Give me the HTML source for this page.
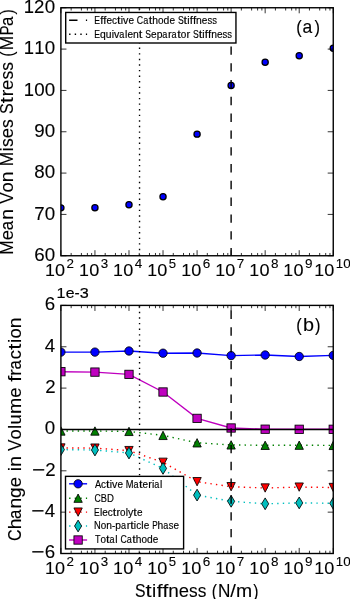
<!DOCTYPE html><html><head><meta charset="utf-8"><style>html,body{margin:0;padding:0;background:#fff;}svg{display:block;will-change:transform;}text{font-kerning:none;}</style></head><body><svg width="350" height="599" viewBox="0 0 350 599" font-family="&quot;Liberation Sans&quot;, sans-serif">
<rect width="350" height="599" fill="#fff"/>
<defs>
<clipPath id="c1"><rect x="60.9" y="7.75" width="272.35" height="248.0"/></clipPath>
<clipPath id="c2"><rect x="60.9" y="305.4" width="272.35" height="248.10000000000002"/></clipPath>
</defs>
<g clip-path="url(#c1)">
<circle cx="60.90" cy="207.85" r="3.10" fill="#0000ff" stroke="#000" stroke-width="1.25"/>
<circle cx="94.94" cy="207.80" r="3.10" fill="#0000ff" stroke="#000" stroke-width="1.25"/>
<circle cx="128.99" cy="204.70" r="3.10" fill="#0000ff" stroke="#000" stroke-width="1.25"/>
<circle cx="163.03" cy="196.70" r="3.10" fill="#0000ff" stroke="#000" stroke-width="1.25"/>
<circle cx="197.08" cy="134.15" r="3.10" fill="#0000ff" stroke="#000" stroke-width="1.25"/>
<circle cx="231.12" cy="85.40" r="3.10" fill="#0000ff" stroke="#000" stroke-width="1.25"/>
<circle cx="265.16" cy="62.20" r="3.10" fill="#0000ff" stroke="#000" stroke-width="1.25"/>
<circle cx="299.21" cy="55.70" r="3.10" fill="#0000ff" stroke="#000" stroke-width="1.25"/>
<circle cx="333.25" cy="48.30" r="3.10" fill="#0000ff" stroke="#000" stroke-width="1.25"/>
<path d="M231.12 256.4V7.75" stroke="#000" stroke-width="1.39" stroke-dasharray="8.4 8.4" fill="none"/>
<path d="M139.55 255.80V7.75" stroke="#000" stroke-width="1.39" stroke-dasharray="1.4 4.19" fill="none"/>
</g>
<path d="M60.90 255.75v-5.56M60.90 7.75v5.56M71.15 255.75v-2.78M71.15 7.75v2.78M81.40 255.75v-2.78M81.40 7.75v2.78M87.39 255.75v-2.78M87.39 7.75v2.78M91.64 255.75v-2.78M91.64 7.75v2.78M94.94 255.75v-5.56M94.94 7.75v5.56M105.19 255.75v-2.78M105.19 7.75v2.78M115.44 255.75v-2.78M115.44 7.75v2.78M121.43 255.75v-2.78M121.43 7.75v2.78M125.69 255.75v-2.78M125.69 7.75v2.78M128.99 255.75v-5.56M128.99 7.75v5.56M139.24 255.75v-2.78M139.24 7.75v2.78M149.48 255.75v-2.78M149.48 7.75v2.78M155.48 255.75v-2.78M155.48 7.75v2.78M159.73 255.75v-2.78M159.73 7.75v2.78M163.03 255.75v-5.56M163.03 7.75v5.56M173.28 255.75v-2.78M173.28 7.75v2.78M183.53 255.75v-2.78M183.53 7.75v2.78M189.52 255.75v-2.78M189.52 7.75v2.78M193.78 255.75v-2.78M193.78 7.75v2.78M197.08 255.75v-5.56M197.08 7.75v5.56M207.32 255.75v-2.78M207.32 7.75v2.78M217.57 255.75v-2.78M217.57 7.75v2.78M223.57 255.75v-2.78M223.57 7.75v2.78M227.82 255.75v-2.78M227.82 7.75v2.78M231.12 255.75v-5.56M231.12 7.75v5.56M241.37 255.75v-2.78M241.37 7.75v2.78M251.62 255.75v-2.78M251.62 7.75v2.78M257.61 255.75v-2.78M257.61 7.75v2.78M261.86 255.75v-2.78M261.86 7.75v2.78M265.16 255.75v-5.56M265.16 7.75v5.56M275.41 255.75v-2.78M275.41 7.75v2.78M285.66 255.75v-2.78M285.66 7.75v2.78M291.65 255.75v-2.78M291.65 7.75v2.78M295.91 255.75v-2.78M295.91 7.75v2.78M299.21 255.75v-5.56M299.21 7.75v5.56M309.45 255.75v-2.78M309.45 7.75v2.78M319.70 255.75v-2.78M319.70 7.75v2.78M325.70 255.75v-2.78M325.70 7.75v2.78M329.95 255.75v-2.78M329.95 7.75v2.78M333.25 255.75v-5.56M333.25 7.75v5.56" stroke="#000" stroke-width="0.8" fill="none"/>
<path d="M60.90 255.75h5.56M333.25 255.75h-5.56M60.90 214.42h5.56M333.25 214.42h-5.56M60.90 173.08h5.56M333.25 173.08h-5.56M60.90 131.75h5.56M333.25 131.75h-5.56M60.90 90.42h5.56M333.25 90.42h-5.56M60.90 49.08h5.56M333.25 49.08h-5.56M60.90 7.75h5.56M333.25 7.75h-5.56" stroke="#000" stroke-width="0.8" fill="none"/>
<rect x="60.9" y="7.75" width="272.35" height="248.0" fill="none" stroke="#000" stroke-width="1.39"/>
<rect x="65.7" y="12.45" width="170.25" height="30.55" fill="#fff" stroke="#000" stroke-width="1.39"/>
<path d="M69.1 20.3H87.1" stroke="#000" stroke-width="1.39" stroke-dasharray="8.4 8.4"/>
<path d="M69.1 34.2H87.1" stroke="#000" stroke-width="1.39" stroke-dasharray="1.4 4.2"/>
<g font-size="10.28" fill="#000" stroke="#000" stroke-width="0.15">
<text transform="translate(0,24.10) translate(94.30,0) scale(0.8355,1)">E</text>
<text transform="translate(0,24.10) translate(100.14,0) scale(1.1176,1)">f</text>
<text transform="translate(0,24.10) translate(103.33,0) scale(1.1176,1)">f</text>
<text transform="translate(0,24.10) translate(106.45,0) scale(0.9757,1)">e</text>
<text transform="translate(0,24.10) translate(111.90,0) scale(0.9699,1)">c</text>
<text transform="translate(0,24.10) translate(116.96,0) scale(1.2447,1)">t</text>
<text transform="translate(0,24.10) translate(120.66,0) scale(1.0098,1)">i</text>
<text transform="translate(0,24.10) translate(123.07,0) scale(1.0440,1)">v</text>
<text transform="translate(0,24.10) translate(128.46,0) scale(0.9757,1)">e</text>
<text transform="translate(0,24.10) translate(136.85,0) scale(0.8528,1)">C</text>
<text transform="translate(0,24.10) translate(143.14,0) scale(0.8883,1)">a</text>
<text transform="translate(0,24.10) translate(148.76,0) scale(1.2447,1)">t</text>
<text transform="translate(0,24.10) translate(152.35,0) scale(1.0051,1)">h</text>
<text transform="translate(0,24.10) translate(158.10,0) scale(0.9703,1)">o</text>
<text transform="translate(0,24.10) translate(163.60,0) scale(1.0067,1)">d</text>
<text transform="translate(0,24.10) translate(169.42,0) scale(0.9757,1)">e</text>
<text transform="translate(0,24.10) translate(177.91,0) scale(0.8394,1)">S</text>
<text transform="translate(0,24.10) translate(183.59,0) scale(1.2447,1)">t</text>
<text transform="translate(0,24.10) translate(187.29,0) scale(1.0098,1)">i</text>
<text transform="translate(0,24.10) translate(189.80,0) scale(1.1176,1)">f</text>
<text transform="translate(0,24.10) translate(192.99,0) scale(1.1176,1)">f</text>
<text transform="translate(0,24.10) translate(196.11,0) scale(1.0051,1)">n</text>
<text transform="translate(0,24.10) translate(201.85,0) scale(0.9757,1)">e</text>
<text transform="translate(0,24.10) translate(207.48,0) scale(0.9191,1)">s</text>
<text transform="translate(0,24.10) translate(212.20,0) scale(0.9191,1)">s</text>
</g>
<g font-size="10.28" fill="#000" stroke="#000" stroke-width="0.15">
<text transform="translate(0,37.80) translate(94.30,0) scale(0.8355,1)">E</text>
<text transform="translate(0,37.80) translate(99.99,0) scale(1.0067,1)">q</text>
<text transform="translate(0,37.80) translate(105.78,0) scale(1.0051,1)">u</text>
<text transform="translate(0,37.80) translate(111.66,0) scale(1.0098,1)">i</text>
<text transform="translate(0,37.80) translate(114.07,0) scale(1.0440,1)">v</text>
<text transform="translate(0,37.80) translate(119.34,0) scale(0.8883,1)">a</text>
<text transform="translate(0,37.80) translate(125.10,0) scale(1.0098,1)">l</text>
<text transform="translate(0,37.80) translate(127.53,0) scale(0.9757,1)">e</text>
<text transform="translate(0,37.80) translate(133.11,0) scale(1.0051,1)">n</text>
<text transform="translate(0,37.80) translate(138.80,0) scale(1.2447,1)">t</text>
<text transform="translate(0,37.80) translate(145.33,0) scale(0.8394,1)">S</text>
<text transform="translate(0,37.80) translate(151.06,0) scale(0.9757,1)">e</text>
<text transform="translate(0,37.80) translate(156.66,0) scale(1.0067,1)">p</text>
<text transform="translate(0,37.80) translate(162.28,0) scale(0.8883,1)">a</text>
<text transform="translate(0,37.80) translate(168.07,0) scale(1.0889,1)">r</text>
<text transform="translate(0,37.80) translate(171.57,0) scale(0.8883,1)">a</text>
<text transform="translate(0,37.80) translate(177.18,0) scale(1.2447,1)">t</text>
<text transform="translate(0,37.80) translate(180.78,0) scale(0.9703,1)">o</text>
<text transform="translate(0,37.80) translate(186.46,0) scale(1.0889,1)">r</text>
<text transform="translate(0,37.80) translate(192.99,0) scale(0.8394,1)">S</text>
<text transform="translate(0,37.80) translate(198.66,0) scale(1.2447,1)">t</text>
<text transform="translate(0,37.80) translate(202.36,0) scale(1.0098,1)">i</text>
<text transform="translate(0,37.80) translate(204.87,0) scale(1.1176,1)">f</text>
<text transform="translate(0,37.80) translate(208.06,0) scale(1.1176,1)">f</text>
<text transform="translate(0,37.80) translate(211.18,0) scale(1.0051,1)">n</text>
<text transform="translate(0,37.80) translate(216.92,0) scale(0.9757,1)">e</text>
<text transform="translate(0,37.80) translate(222.55,0) scale(0.9191,1)">s</text>
<text transform="translate(0,37.80) translate(227.27,0) scale(0.9191,1)">s</text>
</g>
<g font-size="18.44" fill="#000" stroke="#000" stroke-width="0.1">
<text transform="translate(0,33.30) translate(296.24,0) scale(0.8935,1)">(</text>
<text transform="translate(0,33.30) translate(302.61,0) scale(0.9505,1)">a</text>
<text transform="translate(0,33.30) translate(314.52,0) scale(0.8935,1)">)</text>
</g>
<g font-size="18.07" fill="#000" stroke="#000" stroke-width="0.1">
<text transform="translate(0,260.85) translate(34.21,0) scale(1.0381,1)">6</text>
<text transform="translate(0,260.85) translate(44.65,0) scale(1.0381,1)">0</text>
</g>
<g font-size="18.07" fill="#000" stroke="#000" stroke-width="0.1">
<text transform="translate(0,219.52) translate(34.18,0) scale(1.0381,1)">7</text>
<text transform="translate(0,219.52) translate(44.65,0) scale(1.0381,1)">0</text>
</g>
<g font-size="18.07" fill="#000" stroke="#000" stroke-width="0.1">
<text transform="translate(0,178.18) translate(34.22,0) scale(1.0381,1)">8</text>
<text transform="translate(0,178.18) translate(44.65,0) scale(1.0381,1)">0</text>
</g>
<g font-size="18.07" fill="#000" stroke="#000" stroke-width="0.1">
<text transform="translate(0,136.85) translate(34.17,0) scale(1.0381,1)">9</text>
<text transform="translate(0,136.85) translate(44.65,0) scale(1.0381,1)">0</text>
</g>
<g font-size="18.07" fill="#000" stroke="#000" stroke-width="0.1">
<text transform="translate(0,95.52) translate(23.75,0) scale(1.0233,1)">1</text>
<text transform="translate(0,95.52) translate(34.22,0) scale(1.0381,1)">0</text>
<text transform="translate(0,95.52) translate(44.65,0) scale(1.0381,1)">0</text>
</g>
<g font-size="18.07" fill="#000" stroke="#000" stroke-width="0.1">
<text transform="translate(0,54.18) translate(23.75,0) scale(1.0233,1)">1</text>
<text transform="translate(0,54.18) translate(34.19,0) scale(1.0233,1)">1</text>
<text transform="translate(0,54.18) translate(44.65,0) scale(1.0381,1)">0</text>
</g>
<g font-size="18.07" fill="#000" stroke="#000" stroke-width="0.1">
<text transform="translate(0,12.85) translate(23.75,0) scale(1.0233,1)">1</text>
<text transform="translate(0,12.85) translate(34.03,0) scale(1.0327,1)">2</text>
<text transform="translate(0,12.85) translate(44.65,0) scale(1.0381,1)">0</text>
</g>
<g font-size="17.08" fill="#000" stroke="#000" stroke-width="0.1">
<text transform="translate(0,276.45) translate(45.03,0) scale(1.0433,1)">1</text>
<text transform="translate(0,276.45) translate(55.11,0) scale(1.0585,1)">0</text>
</g>
<g font-size="12.50" fill="#000" stroke="#000" stroke-width="0.1">
<text transform="translate(0,267.55) translate(66.53,0) scale(1.0740,1)">2</text>
</g>
<g font-size="17.08" fill="#000" stroke="#000" stroke-width="0.1">
<text transform="translate(0,276.45) translate(79.08,0) scale(1.0433,1)">1</text>
<text transform="translate(0,276.45) translate(89.16,0) scale(1.0585,1)">0</text>
</g>
<g font-size="12.50" fill="#000" stroke="#000" stroke-width="0.1">
<text transform="translate(0,267.55) translate(100.76,0) scale(1.0701,1)">3</text>
</g>
<g font-size="17.08" fill="#000" stroke="#000" stroke-width="0.1">
<text transform="translate(0,276.45) translate(113.12,0) scale(1.0433,1)">1</text>
<text transform="translate(0,276.45) translate(123.20,0) scale(1.0585,1)">0</text>
</g>
<g font-size="12.50" fill="#000" stroke="#000" stroke-width="0.1">
<text transform="translate(0,267.55) translate(134.76,0) scale(1.0796,1)">4</text>
</g>
<g font-size="17.08" fill="#000" stroke="#000" stroke-width="0.1">
<text transform="translate(0,276.45) translate(147.16,0) scale(1.0433,1)">1</text>
<text transform="translate(0,276.45) translate(157.24,0) scale(1.0585,1)">0</text>
</g>
<g font-size="12.50" fill="#000" stroke="#000" stroke-width="0.1">
<text transform="translate(0,267.55) translate(168.85,0) scale(1.0516,1)">5</text>
</g>
<g font-size="17.08" fill="#000" stroke="#000" stroke-width="0.1">
<text transform="translate(0,276.45) translate(181.21,0) scale(1.0433,1)">1</text>
<text transform="translate(0,276.45) translate(191.29,0) scale(1.0585,1)">0</text>
</g>
<g font-size="12.50" fill="#000" stroke="#000" stroke-width="0.1">
<text transform="translate(0,267.55) translate(202.84,0) scale(1.0796,1)">6</text>
</g>
<g font-size="17.08" fill="#000" stroke="#000" stroke-width="0.1">
<text transform="translate(0,276.45) translate(215.25,0) scale(1.0433,1)">1</text>
<text transform="translate(0,276.45) translate(225.33,0) scale(1.0585,1)">0</text>
</g>
<g font-size="12.50" fill="#000" stroke="#000" stroke-width="0.1">
<text transform="translate(0,267.55) translate(236.86,0) scale(1.0796,1)">7</text>
</g>
<g font-size="17.08" fill="#000" stroke="#000" stroke-width="0.1">
<text transform="translate(0,276.45) translate(249.29,0) scale(1.0433,1)">1</text>
<text transform="translate(0,276.45) translate(259.38,0) scale(1.0585,1)">0</text>
</g>
<g font-size="12.50" fill="#000" stroke="#000" stroke-width="0.1">
<text transform="translate(0,267.55) translate(270.93,0) scale(1.0796,1)">8</text>
</g>
<g font-size="17.08" fill="#000" stroke="#000" stroke-width="0.1">
<text transform="translate(0,276.45) translate(283.34,0) scale(1.0433,1)">1</text>
<text transform="translate(0,276.45) translate(293.42,0) scale(1.0585,1)">0</text>
</g>
<g font-size="12.50" fill="#000" stroke="#000" stroke-width="0.1">
<text transform="translate(0,267.55) translate(304.94,0) scale(1.0796,1)">9</text>
</g>
<g font-size="17.08" fill="#000" stroke="#000" stroke-width="0.1">
<text transform="translate(0,276.45) translate(314.18,0) scale(1.0433,1)">1</text>
<text transform="translate(0,276.45) translate(324.26,0) scale(1.0585,1)">0</text>
</g>
<g font-size="12.50" fill="#000" stroke="#000" stroke-width="0.1">
<text transform="translate(0,267.55) translate(335.79,0) scale(1.0642,1)">1</text>
<text transform="translate(0,267.55) translate(343.32,0) scale(1.0796,1)">0</text>
</g>
<g font-size="17.75" fill="#000" stroke="#000" stroke-width="0.1">
<text transform="translate(12.60,0) rotate(-90) translate(-254.82,0) scale(0.9775,1)">M</text>
<text transform="translate(12.60,0) rotate(-90) translate(-240.34,0) scale(1.0440,1)">e</text>
<text transform="translate(12.60,0) rotate(-90) translate(-230.25,0) scale(0.9505,1)">a</text>
<text transform="translate(12.60,0) rotate(-90) translate(-219.77,0) scale(1.0755,1)">n</text>
<text transform="translate(12.60,0) rotate(-90) translate(-203.87,0) scale(0.9679,1)">V</text>
<text transform="translate(12.60,0) rotate(-90) translate(-192.40,0) scale(1.0382,1)">o</text>
<text transform="translate(12.60,0) rotate(-90) translate(-182.13,0) scale(1.0755,1)">n</text>
<text transform="translate(12.60,0) rotate(-90) translate(-166.22,0) scale(0.9775,1)">M</text>
<text transform="translate(12.60,0) rotate(-90) translate(-151.56,0) scale(1.0805,1)">i</text>
<text transform="translate(12.60,0) rotate(-90) translate(-147.00,0) scale(0.9834,1)">s</text>
<text transform="translate(12.60,0) rotate(-90) translate(-138.35,0) scale(1.0440,1)">e</text>
<text transform="translate(12.60,0) rotate(-90) translate(-127.97,0) scale(0.9834,1)">s</text>
<text transform="translate(12.60,0) rotate(-90) translate(-113.94,0) scale(0.8982,1)">S</text>
<text transform="translate(12.60,0) rotate(-90) translate(-103.26,0) scale(1.2500,1)">t</text>
<text transform="translate(12.60,0) rotate(-90) translate(-96.59,0) scale(1.1652,1)">r</text>
<text transform="translate(12.60,0) rotate(-90) translate(-89.91,0) scale(1.0440,1)">e</text>
<text transform="translate(12.60,0) rotate(-90) translate(-79.52,0) scale(0.9834,1)">s</text>
<text transform="translate(12.60,0) rotate(-90) translate(-70.80,0) scale(0.9834,1)">s</text>
<text transform="translate(12.60,0) rotate(-90) translate(-56.63,0) scale(0.8935,1)">(</text>
<text transform="translate(12.60,0) rotate(-90) translate(-50.32,0) scale(0.9775,1)">M</text>
<text transform="translate(12.60,0) rotate(-90) translate(-35.56,0) scale(0.8533,1)">P</text>
<text transform="translate(12.60,0) rotate(-90) translate(-25.95,0) scale(0.9505,1)">a</text>
<text transform="translate(12.60,0) rotate(-90) translate(-14.49,0) scale(0.8935,1)">)</text>
</g>
<g clip-path="url(#c2)">
<path d="M60.90 352.10L94.94 352.10L128.99 351.00L163.03 353.20L197.08 353.00L231.12 355.60L265.16 355.00L299.21 356.50L333.25 355.40" fill="none" stroke="#0000ff" stroke-width="1.39"/>
<circle cx="60.90" cy="352.10" r="4.17" fill="#0000ff" stroke="#000" stroke-width="0.85"/>
<circle cx="94.94" cy="352.10" r="4.17" fill="#0000ff" stroke="#000" stroke-width="0.85"/>
<circle cx="128.99" cy="351.00" r="4.17" fill="#0000ff" stroke="#000" stroke-width="0.85"/>
<circle cx="163.03" cy="353.20" r="4.17" fill="#0000ff" stroke="#000" stroke-width="0.85"/>
<circle cx="197.08" cy="353.00" r="4.17" fill="#0000ff" stroke="#000" stroke-width="0.85"/>
<circle cx="231.12" cy="355.60" r="4.17" fill="#0000ff" stroke="#000" stroke-width="0.85"/>
<circle cx="265.16" cy="355.00" r="4.17" fill="#0000ff" stroke="#000" stroke-width="0.85"/>
<circle cx="299.21" cy="356.50" r="4.17" fill="#0000ff" stroke="#000" stroke-width="0.85"/>
<circle cx="333.25" cy="355.40" r="4.17" fill="#0000ff" stroke="#000" stroke-width="0.85"/>
<path d="M60.90 431.00L94.94 431.00L128.99 431.40L163.03 435.40L197.08 442.80L231.12 444.90L265.16 445.30L299.21 445.20L333.25 445.40" fill="none" stroke="#008000" stroke-width="1.39" stroke-dasharray="1.4 4.2"/>
<path d="M60.90 426.83L56.73 435.17L65.06 435.17Z" fill="#008000" stroke="#000" stroke-width="0.85" stroke-linejoin="miter"/>
<path d="M94.94 426.83L90.78 435.17L99.11 435.17Z" fill="#008000" stroke="#000" stroke-width="0.85" stroke-linejoin="miter"/>
<path d="M128.99 427.23L124.82 435.56L133.15 435.56Z" fill="#008000" stroke="#000" stroke-width="0.85" stroke-linejoin="miter"/>
<path d="M163.03 431.23L158.87 439.56L167.20 439.56Z" fill="#008000" stroke="#000" stroke-width="0.85" stroke-linejoin="miter"/>
<path d="M197.08 438.63L192.91 446.97L201.24 446.97Z" fill="#008000" stroke="#000" stroke-width="0.85" stroke-linejoin="miter"/>
<path d="M231.12 440.73L226.95 449.06L235.28 449.06Z" fill="#008000" stroke="#000" stroke-width="0.85" stroke-linejoin="miter"/>
<path d="M265.16 441.13L261.00 449.47L269.33 449.47Z" fill="#008000" stroke="#000" stroke-width="0.85" stroke-linejoin="miter"/>
<path d="M299.21 441.03L295.04 449.37L303.37 449.37Z" fill="#008000" stroke="#000" stroke-width="0.85" stroke-linejoin="miter"/>
<path d="M333.25 441.23L329.08 449.56L337.42 449.56Z" fill="#008000" stroke="#000" stroke-width="0.85" stroke-linejoin="miter"/>
<path d="M60.90 448.00L94.94 448.10L128.99 450.60L163.03 462.30L197.08 481.70L231.12 486.70L265.16 488.00L299.21 487.10L333.25 487.50" fill="none" stroke="#ff0000" stroke-width="1.39" stroke-dasharray="1.4 4.2"/>
<path d="M60.90 452.17L56.73 443.83L65.06 443.83Z" fill="#ff0000" stroke="#000" stroke-width="0.85" stroke-linejoin="miter"/>
<path d="M94.94 452.27L90.78 443.94L99.11 443.94Z" fill="#ff0000" stroke="#000" stroke-width="0.85" stroke-linejoin="miter"/>
<path d="M128.99 454.77L124.82 446.44L133.15 446.44Z" fill="#ff0000" stroke="#000" stroke-width="0.85" stroke-linejoin="miter"/>
<path d="M163.03 466.47L158.87 458.13L167.20 458.13Z" fill="#ff0000" stroke="#000" stroke-width="0.85" stroke-linejoin="miter"/>
<path d="M197.08 485.87L192.91 477.53L201.24 477.53Z" fill="#ff0000" stroke="#000" stroke-width="0.85" stroke-linejoin="miter"/>
<path d="M231.12 490.87L226.95 482.53L235.28 482.53Z" fill="#ff0000" stroke="#000" stroke-width="0.85" stroke-linejoin="miter"/>
<path d="M265.16 492.17L261.00 483.83L269.33 483.83Z" fill="#ff0000" stroke="#000" stroke-width="0.85" stroke-linejoin="miter"/>
<path d="M299.21 491.27L295.04 482.94L303.37 482.94Z" fill="#ff0000" stroke="#000" stroke-width="0.85" stroke-linejoin="miter"/>
<path d="M333.25 491.67L329.08 483.33L337.42 483.33Z" fill="#ff0000" stroke="#000" stroke-width="0.85" stroke-linejoin="miter"/>
<path d="M60.90 449.60L94.94 450.00L128.99 453.00L163.03 468.40L197.08 495.10L231.12 501.30L265.16 503.80L299.21 502.90L333.25 503.30" fill="none" stroke="#00bfbf" stroke-width="1.39" stroke-dasharray="1.4 4.2"/>
<path d="M60.90 443.71L64.43 449.60L60.90 455.49L57.37 449.60Z" fill="#00bfbf" stroke="#000" stroke-width="0.85"/>
<path d="M94.94 444.11L98.48 450.00L94.94 455.89L91.41 450.00Z" fill="#00bfbf" stroke="#000" stroke-width="0.85"/>
<path d="M128.99 447.11L132.52 453.00L128.99 458.89L125.45 453.00Z" fill="#00bfbf" stroke="#000" stroke-width="0.85"/>
<path d="M163.03 462.51L166.57 468.40L163.03 474.29L159.50 468.40Z" fill="#00bfbf" stroke="#000" stroke-width="0.85"/>
<path d="M197.08 489.21L200.61 495.10L197.08 500.99L193.54 495.10Z" fill="#00bfbf" stroke="#000" stroke-width="0.85"/>
<path d="M231.12 495.41L234.65 501.30L231.12 507.19L227.58 501.30Z" fill="#00bfbf" stroke="#000" stroke-width="0.85"/>
<path d="M265.16 497.91L268.70 503.80L265.16 509.69L261.63 503.80Z" fill="#00bfbf" stroke="#000" stroke-width="0.85"/>
<path d="M299.21 497.01L302.74 502.90L299.21 508.79L295.67 502.90Z" fill="#00bfbf" stroke="#000" stroke-width="0.85"/>
<path d="M333.25 497.41L336.78 503.30L333.25 509.19L329.72 503.30Z" fill="#00bfbf" stroke="#000" stroke-width="0.85"/>
<path d="M60.90 371.70L94.94 372.10L128.99 374.40L163.03 392.00L197.08 418.40L231.12 428.00L265.16 429.20L299.21 429.30L333.25 429.30" fill="none" stroke="#bf00bf" stroke-width="1.39"/>
<rect x="56.73" y="367.53" width="8.33" height="8.33" fill="#bf00bf" stroke="#000" stroke-width="0.85"/>
<rect x="90.78" y="367.94" width="8.33" height="8.33" fill="#bf00bf" stroke="#000" stroke-width="0.85"/>
<rect x="124.82" y="370.23" width="8.33" height="8.33" fill="#bf00bf" stroke="#000" stroke-width="0.85"/>
<rect x="158.87" y="387.83" width="8.33" height="8.33" fill="#bf00bf" stroke="#000" stroke-width="0.85"/>
<rect x="192.91" y="414.23" width="8.33" height="8.33" fill="#bf00bf" stroke="#000" stroke-width="0.85"/>
<rect x="226.95" y="423.83" width="8.33" height="8.33" fill="#bf00bf" stroke="#000" stroke-width="0.85"/>
<rect x="261.00" y="425.03" width="8.33" height="8.33" fill="#bf00bf" stroke="#000" stroke-width="0.85"/>
<rect x="295.04" y="425.13" width="8.33" height="8.33" fill="#bf00bf" stroke="#000" stroke-width="0.85"/>
<rect x="329.08" y="425.13" width="8.33" height="8.33" fill="#bf00bf" stroke="#000" stroke-width="0.85"/>
<path d="M60.9 429.45H333.25" stroke="#000" stroke-width="1.39"/>
<path d="M231.12 554.15V305.4" stroke="#000" stroke-width="1.39" stroke-dasharray="8.4 8.4" fill="none"/>
<path d="M139.55 553.55V305.4" stroke="#000" stroke-width="1.39" stroke-dasharray="1.4 4.19" fill="none"/>
</g>
<path d="M60.90 553.50v-5.56M60.90 305.40v5.56M71.15 553.50v-2.78M71.15 305.40v2.78M81.40 553.50v-2.78M81.40 305.40v2.78M87.39 553.50v-2.78M87.39 305.40v2.78M91.64 553.50v-2.78M91.64 305.40v2.78M94.94 553.50v-5.56M94.94 305.40v5.56M105.19 553.50v-2.78M105.19 305.40v2.78M115.44 553.50v-2.78M115.44 305.40v2.78M121.43 553.50v-2.78M121.43 305.40v2.78M125.69 553.50v-2.78M125.69 305.40v2.78M128.99 553.50v-5.56M128.99 305.40v5.56M139.24 553.50v-2.78M139.24 305.40v2.78M149.48 553.50v-2.78M149.48 305.40v2.78M155.48 553.50v-2.78M155.48 305.40v2.78M159.73 553.50v-2.78M159.73 305.40v2.78M163.03 553.50v-5.56M163.03 305.40v5.56M173.28 553.50v-2.78M173.28 305.40v2.78M183.53 553.50v-2.78M183.53 305.40v2.78M189.52 553.50v-2.78M189.52 305.40v2.78M193.78 553.50v-2.78M193.78 305.40v2.78M197.08 553.50v-5.56M197.08 305.40v5.56M207.32 553.50v-2.78M207.32 305.40v2.78M217.57 553.50v-2.78M217.57 305.40v2.78M223.57 553.50v-2.78M223.57 305.40v2.78M227.82 553.50v-2.78M227.82 305.40v2.78M231.12 553.50v-5.56M231.12 305.40v5.56M241.37 553.50v-2.78M241.37 305.40v2.78M251.62 553.50v-2.78M251.62 305.40v2.78M257.61 553.50v-2.78M257.61 305.40v2.78M261.86 553.50v-2.78M261.86 305.40v2.78M265.16 553.50v-5.56M265.16 305.40v5.56M275.41 553.50v-2.78M275.41 305.40v2.78M285.66 553.50v-2.78M285.66 305.40v2.78M291.65 553.50v-2.78M291.65 305.40v2.78M295.91 553.50v-2.78M295.91 305.40v2.78M299.21 553.50v-5.56M299.21 305.40v5.56M309.45 553.50v-2.78M309.45 305.40v2.78M319.70 553.50v-2.78M319.70 305.40v2.78M325.70 553.50v-2.78M325.70 305.40v2.78M329.95 553.50v-2.78M329.95 305.40v2.78M333.25 553.50v-5.56M333.25 305.40v5.56" stroke="#000" stroke-width="0.8" fill="none"/>
<path d="M60.90 553.50h5.56M333.25 553.50h-5.56M60.90 512.15h5.56M333.25 512.15h-5.56M60.90 470.80h5.56M333.25 470.80h-5.56M60.90 429.45h5.56M333.25 429.45h-5.56M60.90 388.10h5.56M333.25 388.10h-5.56M60.90 346.75h5.56M333.25 346.75h-5.56M60.90 305.40h5.56M333.25 305.40h-5.56" stroke="#000" stroke-width="0.8" fill="none"/>
<rect x="60.9" y="305.4" width="272.35" height="248.10000000000002" fill="none" stroke="#000" stroke-width="1.39"/>
<rect x="65.5" y="476.35" width="118.10" height="72.55" fill="#fff" stroke="#000" stroke-width="1.39"/>
<path d="M69.10 483.80L87.10 483.80" fill="none" stroke="#0000ff" stroke-width="1.39"/>
<circle cx="78.10" cy="483.80" r="4.17" fill="#0000ff" stroke="#000" stroke-width="0.85"/>
<g font-size="10.20" fill="#000" stroke="#000" stroke-width="0.15">
<text transform="translate(0,487.70) translate(94.93,0) scale(0.9046,1)">A</text>
<text transform="translate(0,487.70) translate(100.98,0) scale(0.9699,1)">c</text>
<text transform="translate(0,487.70) translate(106.00,0) scale(1.2447,1)">t</text>
<text transform="translate(0,487.70) translate(109.67,0) scale(1.0098,1)">i</text>
<text transform="translate(0,487.70) translate(112.06,0) scale(1.0440,1)">v</text>
<text transform="translate(0,487.70) translate(117.41,0) scale(0.9757,1)">e</text>
<text transform="translate(0,487.70) translate(125.79,0) scale(0.9136,1)">M</text>
<text transform="translate(0,487.70) translate(133.46,0) scale(0.8883,1)">a</text>
<text transform="translate(0,487.70) translate(139.03,0) scale(1.2447,1)">t</text>
<text transform="translate(0,487.70) translate(142.62,0) scale(0.9757,1)">e</text>
<text transform="translate(0,487.70) translate(148.27,0) scale(1.0889,1)">r</text>
<text transform="translate(0,487.70) translate(151.94,0) scale(1.0098,1)">i</text>
<text transform="translate(0,487.70) translate(154.24,0) scale(0.8883,1)">a</text>
<text transform="translate(0,487.70) translate(159.96,0) scale(1.0098,1)">l</text>
</g>
<path d="M69.10 498.20L87.10 498.20" fill="none" stroke="#008000" stroke-width="1.39" stroke-dasharray="1.4 4.2"/>
<path d="M78.10 494.03L73.93 502.37L82.27 502.37Z" fill="#008000" stroke="#000" stroke-width="0.85" stroke-linejoin="miter"/>
<g font-size="10.20" fill="#000" stroke="#000" stroke-width="0.15">
<text transform="translate(0,501.55) translate(94.45,0) scale(0.8528,1)">C</text>
<text transform="translate(0,501.55) translate(100.77,0) scale(0.9072,1)">B</text>
<text transform="translate(0,501.55) translate(106.96,0) scale(0.9405,1)">D</text>
</g>
<path d="M69.10 512.10L87.10 512.10" fill="none" stroke="#ff0000" stroke-width="1.39" stroke-dasharray="1.4 4.2"/>
<path d="M78.10 516.26L73.93 507.94L82.27 507.94Z" fill="#ff0000" stroke="#000" stroke-width="0.85" stroke-linejoin="miter"/>
<g font-size="10.20" fill="#000" stroke="#000" stroke-width="0.15">
<text transform="translate(0,515.50) translate(94.10,0) scale(0.8355,1)">E</text>
<text transform="translate(0,515.50) translate(99.91,0) scale(1.0098,1)">l</text>
<text transform="translate(0,515.50) translate(102.32,0) scale(0.9757,1)">e</text>
<text transform="translate(0,515.50) translate(107.73,0) scale(0.9699,1)">c</text>
<text transform="translate(0,515.50) translate(112.75,0) scale(1.2447,1)">t</text>
<text transform="translate(0,515.50) translate(116.45,0) scale(1.0889,1)">r</text>
<text transform="translate(0,515.50) translate(120.02,0) scale(0.9703,1)">o</text>
<text transform="translate(0,515.50) translate(125.63,0) scale(1.0098,1)">l</text>
<text transform="translate(0,515.50) translate(128.02,0) scale(1.0440,1)">y</text>
<text transform="translate(0,515.50) translate(133.31,0) scale(1.2447,1)">t</text>
<text transform="translate(0,515.50) translate(136.90,0) scale(0.9757,1)">e</text>
</g>
<path d="M69.10 526.00L87.10 526.00" fill="none" stroke="#00bfbf" stroke-width="1.39" stroke-dasharray="1.4 4.2"/>
<path d="M78.10 520.11L81.63 526.00L78.10 531.89L74.57 526.00Z" fill="#00bfbf" stroke="#000" stroke-width="0.85"/>
<g font-size="10.20" fill="#000" stroke="#000" stroke-width="0.15">
<text transform="translate(0,529.45) translate(94.11,0) scale(0.9136,1)">N</text>
<text transform="translate(0,529.45) translate(100.85,0) scale(0.9703,1)">o</text>
<text transform="translate(0,529.45) translate(106.37,0) scale(1.0051,1)">n</text>
<text transform="translate(0,529.45) translate(112.06,0) scale(0.9557,1)">-</text>
<text transform="translate(0,529.45) translate(115.35,0) scale(1.0067,1)">p</text>
<text transform="translate(0,529.45) translate(120.93,0) scale(0.8883,1)">a</text>
<text transform="translate(0,529.45) translate(126.67,0) scale(1.0889,1)">r</text>
<text transform="translate(0,529.45) translate(130.20,0) scale(1.2447,1)">t</text>
<text transform="translate(0,529.45) translate(133.87,0) scale(1.0098,1)">i</text>
<text transform="translate(0,529.45) translate(136.15,0) scale(0.9699,1)">c</text>
<text transform="translate(0,529.45) translate(141.32,0) scale(1.0098,1)">l</text>
<text transform="translate(0,529.45) translate(143.73,0) scale(0.9757,1)">e</text>
<text transform="translate(0,529.45) translate(152.27,0) scale(0.8000,1)">P</text>
<text transform="translate(0,529.45) translate(157.54,0) scale(1.0051,1)">h</text>
<text transform="translate(0,529.45) translate(163.15,0) scale(0.8883,1)">a</text>
<text transform="translate(0,529.45) translate(168.82,0) scale(0.9191,1)">s</text>
<text transform="translate(0,529.45) translate(173.47,0) scale(0.9757,1)">e</text>
</g>
<path d="M69.10 540.00L87.10 540.00" fill="none" stroke="#bf00bf" stroke-width="1.39"/>
<rect x="73.93" y="535.84" width="8.33" height="8.33" fill="#bf00bf" stroke="#000" stroke-width="0.85"/>
<g font-size="10.20" fill="#000" stroke="#000" stroke-width="0.15">
<text transform="translate(0,543.40) translate(95.03,0) scale(0.8820,1)">T</text>
<text transform="translate(0,543.40) translate(100.53,0) scale(0.9703,1)">o</text>
<text transform="translate(0,543.40) translate(105.99,0) scale(1.2447,1)">t</text>
<text transform="translate(0,543.40) translate(109.47,0) scale(0.8883,1)">a</text>
<text transform="translate(0,543.40) translate(115.18,0) scale(1.0098,1)">l</text>
<text transform="translate(0,543.40) translate(120.39,0) scale(0.8528,1)">C</text>
<text transform="translate(0,543.40) translate(126.63,0) scale(0.8883,1)">a</text>
<text transform="translate(0,543.40) translate(132.20,0) scale(1.2447,1)">t</text>
<text transform="translate(0,543.40) translate(135.77,0) scale(1.0051,1)">h</text>
<text transform="translate(0,543.40) translate(141.47,0) scale(0.9703,1)">o</text>
<text transform="translate(0,543.40) translate(146.93,0) scale(1.0067,1)">d</text>
<text transform="translate(0,543.40) translate(152.71,0) scale(0.9757,1)">e</text>
</g>
<g font-size="18.44" fill="#000" stroke="#000" stroke-width="0.1">
<text transform="translate(0,331.00) translate(296.24,0) scale(0.8935,1)">(</text>
<text transform="translate(0,331.00) translate(302.88,0) scale(1.0772,1)">b</text>
<text transform="translate(0,331.00) translate(314.90,0) scale(0.8935,1)">)</text>
</g>
<g font-size="15.15" fill="#000" stroke="#000" stroke-width="0.2">
<text transform="translate(0,298.40) translate(56.60,0) scale(1.0642,1)">1</text>
<text transform="translate(0,298.40) translate(65.76,0) scale(1.0440,1)">e</text>
<text transform="translate(0,298.40) translate(74.52,0) scale(1.0226,1)">-</text>
<text transform="translate(0,298.40) translate(79.74,0) scale(1.0701,1)">3</text>
</g>
<g font-size="18.07" fill="#000" stroke="#000" stroke-width="0.1">
<text transform="translate(0,558.40) translate(31.33,0) scale(1.2500,1)">−</text>
<text transform="translate(0,558.40) translate(44.79,0) scale(1.0381,1)">6</text>
</g>
<g font-size="18.07" fill="#000" stroke="#000" stroke-width="0.1">
<text transform="translate(0,517.05) translate(31.21,0) scale(1.2500,1)">−</text>
<text transform="translate(0,517.05) translate(44.69,0) scale(1.0381,1)">4</text>
</g>
<g font-size="18.07" fill="#000" stroke="#000" stroke-width="0.1">
<text transform="translate(0,475.70) translate(31.93,0) scale(1.2500,1)">−</text>
<text transform="translate(0,475.70) translate(45.21,0) scale(1.0327,1)">2</text>
</g>
<g font-size="18.07" fill="#000" stroke="#000" stroke-width="0.1">
<text transform="translate(0,434.35) translate(44.85,0) scale(1.0381,1)">0</text>
</g>
<g font-size="18.07" fill="#000" stroke="#000" stroke-width="0.1">
<text transform="translate(0,393.00) translate(45.21,0) scale(1.0327,1)">2</text>
</g>
<g font-size="18.07" fill="#000" stroke="#000" stroke-width="0.1">
<text transform="translate(0,351.65) translate(44.69,0) scale(1.0381,1)">4</text>
</g>
<g font-size="18.07" fill="#000" stroke="#000" stroke-width="0.1">
<text transform="translate(0,310.30) translate(44.79,0) scale(1.0381,1)">6</text>
</g>
<g font-size="17.08" fill="#000" stroke="#000" stroke-width="0.1">
<text transform="translate(0,574.20) translate(45.03,0) scale(1.0433,1)">1</text>
<text transform="translate(0,574.20) translate(55.11,0) scale(1.0585,1)">0</text>
</g>
<g font-size="12.50" fill="#000" stroke="#000" stroke-width="0.1">
<text transform="translate(0,566.40) translate(66.53,0) scale(1.0740,1)">2</text>
</g>
<g font-size="17.08" fill="#000" stroke="#000" stroke-width="0.1">
<text transform="translate(0,574.20) translate(79.08,0) scale(1.0433,1)">1</text>
<text transform="translate(0,574.20) translate(89.16,0) scale(1.0585,1)">0</text>
</g>
<g font-size="12.50" fill="#000" stroke="#000" stroke-width="0.1">
<text transform="translate(0,566.40) translate(100.76,0) scale(1.0701,1)">3</text>
</g>
<g font-size="17.08" fill="#000" stroke="#000" stroke-width="0.1">
<text transform="translate(0,574.20) translate(113.12,0) scale(1.0433,1)">1</text>
<text transform="translate(0,574.20) translate(123.20,0) scale(1.0585,1)">0</text>
</g>
<g font-size="12.50" fill="#000" stroke="#000" stroke-width="0.1">
<text transform="translate(0,566.40) translate(134.76,0) scale(1.0796,1)">4</text>
</g>
<g font-size="17.08" fill="#000" stroke="#000" stroke-width="0.1">
<text transform="translate(0,574.20) translate(147.16,0) scale(1.0433,1)">1</text>
<text transform="translate(0,574.20) translate(157.24,0) scale(1.0585,1)">0</text>
</g>
<g font-size="12.50" fill="#000" stroke="#000" stroke-width="0.1">
<text transform="translate(0,566.40) translate(168.85,0) scale(1.0516,1)">5</text>
</g>
<g font-size="17.08" fill="#000" stroke="#000" stroke-width="0.1">
<text transform="translate(0,574.20) translate(181.21,0) scale(1.0433,1)">1</text>
<text transform="translate(0,574.20) translate(191.29,0) scale(1.0585,1)">0</text>
</g>
<g font-size="12.50" fill="#000" stroke="#000" stroke-width="0.1">
<text transform="translate(0,566.40) translate(202.84,0) scale(1.0796,1)">6</text>
</g>
<g font-size="17.08" fill="#000" stroke="#000" stroke-width="0.1">
<text transform="translate(0,574.20) translate(215.25,0) scale(1.0433,1)">1</text>
<text transform="translate(0,574.20) translate(225.33,0) scale(1.0585,1)">0</text>
</g>
<g font-size="12.50" fill="#000" stroke="#000" stroke-width="0.1">
<text transform="translate(0,566.40) translate(236.86,0) scale(1.0796,1)">7</text>
</g>
<g font-size="17.08" fill="#000" stroke="#000" stroke-width="0.1">
<text transform="translate(0,574.20) translate(249.29,0) scale(1.0433,1)">1</text>
<text transform="translate(0,574.20) translate(259.38,0) scale(1.0585,1)">0</text>
</g>
<g font-size="12.50" fill="#000" stroke="#000" stroke-width="0.1">
<text transform="translate(0,566.40) translate(270.93,0) scale(1.0796,1)">8</text>
</g>
<g font-size="17.08" fill="#000" stroke="#000" stroke-width="0.1">
<text transform="translate(0,574.20) translate(283.34,0) scale(1.0433,1)">1</text>
<text transform="translate(0,574.20) translate(293.42,0) scale(1.0585,1)">0</text>
</g>
<g font-size="12.50" fill="#000" stroke="#000" stroke-width="0.1">
<text transform="translate(0,566.40) translate(304.94,0) scale(1.0796,1)">9</text>
</g>
<g font-size="17.08" fill="#000" stroke="#000" stroke-width="0.1">
<text transform="translate(0,574.20) translate(314.18,0) scale(1.0433,1)">1</text>
<text transform="translate(0,574.20) translate(324.26,0) scale(1.0585,1)">0</text>
</g>
<g font-size="12.50" fill="#000" stroke="#000" stroke-width="0.1">
<text transform="translate(0,566.40) translate(335.79,0) scale(1.0642,1)">1</text>
<text transform="translate(0,566.40) translate(343.32,0) scale(1.0796,1)">0</text>
</g>
<g font-size="17.59" fill="#000" stroke="#000" stroke-width="0.1">
<text transform="translate(0,597.20) translate(134.91,0) scale(0.8982,1)">S</text>
<text transform="translate(0,597.20) translate(145.50,0) scale(1.2500,1)">t</text>
<text transform="translate(0,597.20) translate(152.07,0) scale(1.0805,1)">i</text>
<text transform="translate(0,597.20) translate(156.66,0) scale(1.1959,1)">f</text>
<text transform="translate(0,597.20) translate(162.51,0) scale(1.1959,1)">f</text>
<text transform="translate(0,597.20) translate(168.20,0) scale(1.0755,1)">n</text>
<text transform="translate(0,597.20) translate(178.72,0) scale(1.0440,1)">e</text>
<text transform="translate(0,597.20) translate(189.02,0) scale(0.9834,1)">s</text>
<text transform="translate(0,597.20) translate(197.67,0) scale(0.9834,1)">s</text>
<text transform="translate(0,597.20) translate(211.70,0) scale(0.8935,1)">(</text>
<text transform="translate(0,597.20) translate(217.95,0) scale(0.9776,1)">N</text>
<text transform="translate(0,597.20) translate(230.37,0) scale(1.1445,1)">/</text>
<text transform="translate(0,597.20) translate(236.01,0) scale(1.1036,1)">m</text>
<text transform="translate(0,597.20) translate(253.15,0) scale(0.8935,1)">)</text>
</g>
<g font-size="17.75" fill="#000" stroke="#000" stroke-width="0.1">
<text transform="translate(20.60,0) rotate(-90) translate(-541.10,0) scale(0.9125,1)">C</text>
<text transform="translate(20.60,0) rotate(-90) translate(-529.31,0) scale(1.0755,1)">h</text>
<text transform="translate(20.60,0) rotate(-90) translate(-518.88,0) scale(0.9505,1)">a</text>
<text transform="translate(20.60,0) rotate(-90) translate(-508.40,0) scale(1.0755,1)">n</text>
<text transform="translate(20.60,0) rotate(-90) translate(-497.91,0) scale(1.0772,1)">g</text>
<text transform="translate(20.60,0) rotate(-90) translate(-487.16,0) scale(1.0440,1)">e</text>
<text transform="translate(20.60,0) rotate(-90) translate(-471.36,0) scale(1.0805,1)">i</text>
<text transform="translate(20.60,0) rotate(-90) translate(-466.87,0) scale(1.0755,1)">n</text>
<text transform="translate(20.60,0) rotate(-90) translate(-450.97,0) scale(0.9679,1)">V</text>
<text transform="translate(20.60,0) rotate(-90) translate(-439.50,0) scale(1.0382,1)">o</text>
<text transform="translate(20.60,0) rotate(-90) translate(-429.06,0) scale(1.0805,1)">l</text>
<text transform="translate(20.60,0) rotate(-90) translate(-424.64,0) scale(1.0755,1)">u</text>
<text transform="translate(20.60,0) rotate(-90) translate(-413.95,0) scale(1.1036,1)">m</text>
<text transform="translate(20.60,0) rotate(-90) translate(-397.64,0) scale(1.0440,1)">e</text>
<text transform="translate(20.60,0) rotate(-90) translate(-381.86,0) scale(1.1959,1)">f</text>
<text transform="translate(20.60,0) rotate(-90) translate(-375.90,0) scale(1.1652,1)">r</text>
<text transform="translate(20.60,0) rotate(-90) translate(-369.44,0) scale(0.9505,1)">a</text>
<text transform="translate(20.60,0) rotate(-90) translate(-359.20,0) scale(1.0378,1)">c</text>
<text transform="translate(20.60,0) rotate(-90) translate(-349.65,0) scale(1.2500,1)">t</text>
<text transform="translate(20.60,0) rotate(-90) translate(-343.02,0) scale(1.0805,1)">i</text>
<text transform="translate(20.60,0) rotate(-90) translate(-338.56,0) scale(1.0382,1)">o</text>
<text transform="translate(20.60,0) rotate(-90) translate(-328.28,0) scale(1.0755,1)">n</text>
</g>
</svg></body></html>
